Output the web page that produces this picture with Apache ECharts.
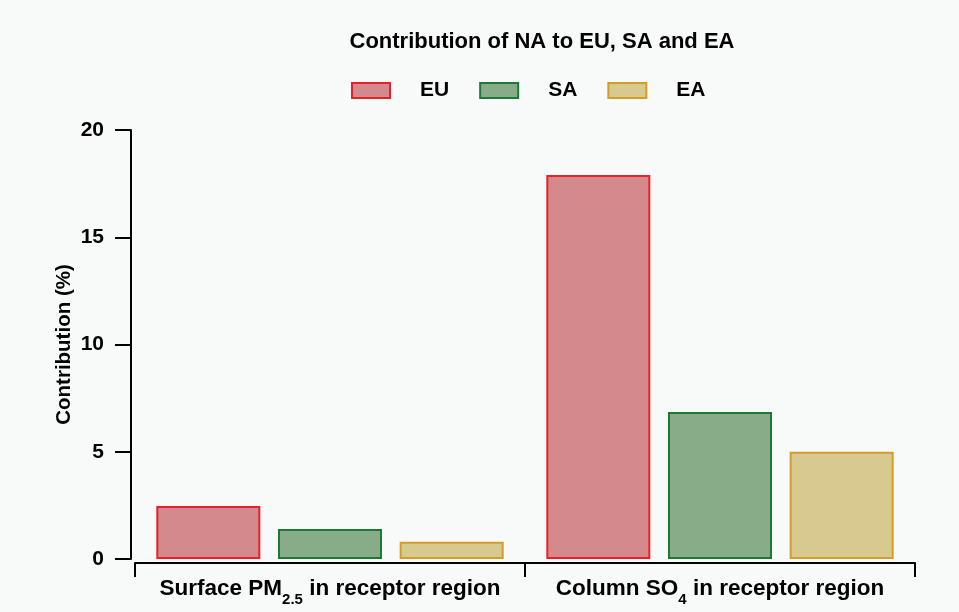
<!DOCTYPE html>
<html><head><meta charset="utf-8">
<script src="https://cdn.jsdelivr.net/npm/echarts@6/dist/echarts.min.js"></script>
<style>html,body{margin:0;padding:0;background:#f8f9f9}#c{width:959px;height:612px}</style>
</head><body><div id="c"></div>
<script>
const categories = ['Surface PM2.5 in receptor region', 'Column SO4 in receptor region'];
const seriesNames = ['EU', 'SA', 'EA'];
const euValues = [2.47, 17.9];
const saValues = [1.4, 6.85];
const eaValues = [0.8, 5.0];
const yTicks = [0, 5, 10, 15, 20];

const fills = ['#d4898c', '#88ab88', '#d8c98f'];
const borders = ['#e8202a', '#1c7a36', '#d29e2a'];
const FONT = 'Liberation Sans, Arial, sans-serif';
const dataSets = [euValues, saValues, eaValues];

const chart = echarts.init(document.getElementById('c'), null, {renderer: 'canvas'});
chart.setOption({
  backgroundColor: '#f8f9f9',
  animation: false,
  title: {
    text: 'Contribution of NA to EU, SA and EA',
    left: 537, top: 26, textAlign: 'center',
    textStyle: {fontFamily: FONT, fontWeight: 'bold', fontSize: 22, color: '#000'}
  },
  legend: {
    data: seriesNames,
    icon: 'rect',
    top: 75, left: 346,
    itemWidth: 38, itemHeight: 15, itemGap: 30,
    textStyle: {fontFamily: FONT, fontWeight: 'bold', fontSize: 21, color: '#000', padding: [0, 0, 0, 25]}
  },
  grid: {left: 135, right: 44, top: 130, bottom: 53},
  xAxis: {
    type: 'category',
    data: categories,
    offset: 4,
    axisLine: {onZero: false, lineStyle: {color: '#000', width: 2}},
    axisTick: {show: true, length: 14, lineStyle: {color: '#000', width: 2}},
    axisLabel: {
      margin: 13,
      formatter: function (v) {
        if (v.indexOf('PM2.5') >= 0) return '{b|Surface PM}{s|2.5}{b| in receptor region}';
        return '{b|Column SO}{s|4}{b| in receptor region}';
      },
      rich: {
        b: {fontFamily: FONT, fontWeight: 'bold', fontSize: 22.5, color: '#000', verticalAlign: 'bottom', lineHeight: 24},
        s: {fontFamily: FONT, fontWeight: 'bold', fontSize: 15, color: '#000', verticalAlign: 'bottom', lineHeight: 24, padding: [0, 0, -7, 0]}
      }
    }
  },
  yAxis: {
    type: 'value',
    min: yTicks[0], max: yTicks[yTicks.length - 1], interval: 5,
    offset: 4,
    name: 'Contribution (%)',
    nameLocation: 'middle',
    nameGap: 56,
    nameMoveOverlap: false,
    nameTextStyle: {fontFamily: FONT, fontWeight: 'bold', fontSize: 20.5, color: '#000'},
    axisLine: {show: true, onZero: false, lineStyle: {color: '#000', width: 2}},
    axisTick: {show: true, length: 16, lineStyle: {color: '#000', width: 2}},
    splitLine: {show: false},
    axisLabel: {margin: 27, fontFamily: FONT, fontWeight: 'bold', fontSize: 21, color: '#000'}
  },
  series: seriesNames.map((n, i) => ({
    name: n,
    type: 'bar',
    data: dataSets[i],
    barWidth: 104,
    barGap: '17%',
    itemStyle: {color: fills[i], borderColor: borders[i], borderWidth: 2}
  }))
});
</script></body></html>
